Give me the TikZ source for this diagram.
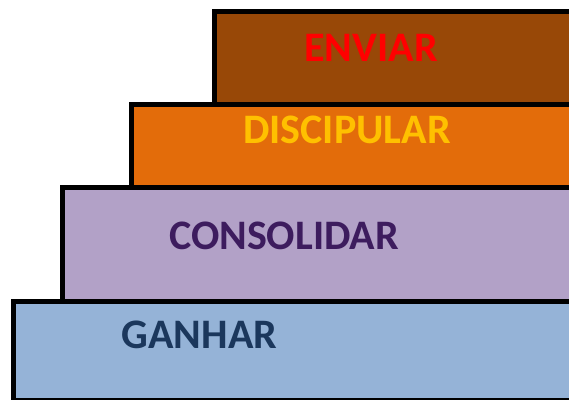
\documentclass[tikz,border=0pt]{standalone}
\usepackage{fontspec}
\setmainfont{Carlito}
\usetikzlibrary{positioning}
\definecolor{enviarfill}{HTML}{984807}
\definecolor{discipularfill}{HTML}{E36C0A}
\definecolor{consolidarfill}{HTML}{B2A1C7}
\definecolor{ganharfill}{HTML}{95B3D7}
\definecolor{discipulartext}{HTML}{FFC000}
\definecolor{consolidartext}{HTML}{3D1C5E}
\definecolor{ganhartext}{HTML}{1B375C}
\tikzset{stair/.style={draw=black, line width=5pt},
  stairlabel/.style={anchor=base, inner sep=0pt,
    font=\fontsize{42}{50}\selectfont\bfseries}}

\begin{document}
\begin{tikzpicture}[x=1pt, y=-1pt]
      \useasboundingbox (0, 0) rectangle (569, 399);
      \clip (0, 0) rectangle (569, 399);

      \draw [stair, fill=ganharfill] (13, 301) rectangle (600, 400);
      \draw [stair, fill=consolidarfill] (62, 187) rectangle (600, 301);
      \draw [stair, fill=discipularfill] (131, 104.5) rectangle (600, 187);
      \draw [stair, fill=enviarfill] (214.5, 11) rectangle (600, 104.5);

      \node [stairlabel, text=red] (enviar) at (371, 61) {ENVIAR};
      \node [stairlabel, text=discipulartext] (discipular) at (347, 143) {DISCIPULAR};
      \node [stairlabel, text=consolidartext] (consolidar) at (284, 249) {CONSOLIDAR};
      \node [stairlabel, text=ganhartext] (ganhar) at (199.5, 348) {GANHAR};
    \end{tikzpicture}
\end{document}
